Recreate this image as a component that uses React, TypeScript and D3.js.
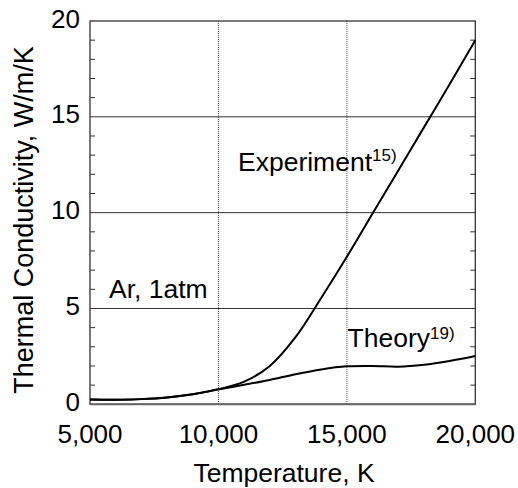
import React from "react";
import * as d3 from "d3";

// Thermal conductivity of argon at 1 atm versus temperature
const temperatures = [5000, 6000, 7000, 8000, 9000, 10000, 11000, 12000, 13000, 14000, 15000, 16000, 17000, 18000, 19000, 20000];
const experimentValues = [0.25, 0.24, 0.27, 0.36, 0.53, 0.78, 1.18, 2.0, 3.5, 5.55, 7.7, 9.95, 12.2, 14.45, 16.7, 19.0];
const theoryValues = [0.25, 0.24, 0.27, 0.36, 0.53, 0.78, 1.02, 1.27, 1.57, 1.82, 1.98, 2.0, 1.96, 2.06, 2.26, 2.52];

const xTicks = [5000, 10000, 15000, 20000];
const yTicks = [0, 5, 10, 15, 20];
const yMinorTicks = d3.range(0, 21, 1);
const xGrid = [10000, 15000];
const yGrid = [5, 10, 15];

const W = 518;
const H = 488;
const left = 90;
const right = 475.3;
const top = 21;
const bottom = 404.3;

const FONT = "'Liberation Sans', Arial, Helvetica, sans-serif";

export default function App() {
  const x = d3.scaleLinear().domain([5000, 20000]).range([left, right]);
  const y = d3.scaleLinear().domain([0, 20]).range([bottom, top]);
  const fmt = d3.format(",");

  const line = d3
    .line<[number, number]>()
    .x((d) => x(d[0]))
    .y((d) => y(d[1]))
    .curve(d3.curveCatmullRom.alpha(0.5));

  const expPath = line(temperatures.map((t, i) => [t, experimentValues[i]]) as [number, number][]) || "";
  const thPath = line(temperatures.map((t, i) => [t, theoryValues[i]]) as [number, number][]) || "";

  return (
    <svg
      width={W}
      height={H}
      viewBox={`0 0 ${W} ${H}`}
      style={{ position: "absolute", left: 0, top: 0, background: "#fff" }}
      fontFamily={FONT}
    >
      <rect x={0} y={0} width={W} height={H} fill="#fff" />

      {/* grid */}
      {yGrid.map((v) => (
        <line key={"hg" + v} x1={left} x2={right} y1={y(v)} y2={y(v)} stroke="#333" strokeWidth={1} />
      ))}
      {xGrid.map((v) => (
        <line
          key={"vg" + v}
          x1={x(v)}
          x2={x(v)}
          y1={top}
          y2={bottom}
          stroke="#555"
          strokeWidth={1}
          strokeDasharray="1,1"
        />
      ))}

      {/* minor ticks on left and right edges */}
      {yMinorTicks
        .filter((v) => v % 5 !== 0)
        .map((v) => (
          <g key={"mt" + v}>
            <line x1={left} x2={left + 5} y1={y(v)} y2={y(v)} stroke="#333" strokeWidth={1} />
            <line x1={right - 5} x2={right} y1={y(v)} y2={y(v)} stroke="#333" strokeWidth={1} />
          </g>
        ))}

      {/* frame */}
      <rect
        x={left}
        y={top}
        width={right - left}
        height={bottom - top}
        fill="none"
        stroke="#333"
        strokeWidth={1.3}
      />
      <line x1={left} x2={right} y1={bottom} y2={bottom} stroke="#666" strokeWidth={2} />

      {/* curves */}
      <path d={expPath} fill="none" stroke="#000" strokeWidth={2} />
      <path d={thPath} fill="none" stroke="#000" strokeWidth={2} />

      {/* y tick labels */}
      {yTicks.map((v) => (
        <text key={"yl" + v} x={80} y={y(v) + 6.5} textAnchor="end" fontSize={26} fill="#000">
          {v}
        </text>
      ))}

      {/* x tick labels */}
      {xTicks.map((v) => (
        <text key={"xl" + v} x={x(v)} y={443} textAnchor="middle" fontSize={26} fill="#000">
          {fmt(v)}
        </text>
      ))}

      {/* axis titles */}
      <text x={284} y={481.5} textAnchor="middle" fontSize={26.5} fill="#000">
        Temperature, K
      </text>
      <text
        transform={`translate(33,220) rotate(-90)`}
        textAnchor="middle"
        fontSize={27}
        fill="#000"
      >
        Thermal Conductivity, W/m/K
      </text>

      {/* annotations */}
      <text x={238} y={170.7} fontSize={26.5} fill="#000">
        Experiment
        <tspan fontSize={17} dy={-10}>15)</tspan>
      </text>
      <text x={347.5} y={346.7} fontSize={26.5} fill="#000">
        Theory
        <tspan fontSize={17} dy={-8}>19)</tspan>
      </text>
      <text x={109} y={298} fontSize={26.5} fill="#000">
        Ar, 1atm
      </text>
    </svg>
  );
}
